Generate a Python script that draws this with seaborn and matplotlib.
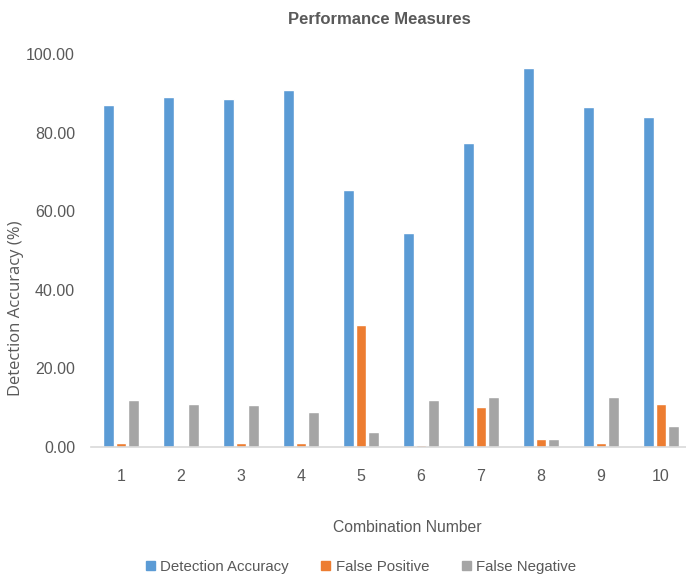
import matplotlib
matplotlib.use("Agg")
import matplotlib.pyplot as plt
import seaborn as sns
import pandas as pd
from matplotlib.ticker import FormatStrFormatter

combinations = [str(i) for i in range(1, 11)]
detection_accuracy = [87.1, 89.0, 88.5, 90.8, 65.3, 54.5, 77.4, 96.4, 86.5, 84.0]
false_positive = [0.9, 0.0, 0.9, 0.9, 31.0, 0.5, 10.2, 2.0, 0.9, 10.9]
false_negative = [11.9, 10.9, 10.6, 8.8, 3.8, 12.0, 12.6, 2.0, 12.8, 5.3]
series_names = ["Detection Accuracy", "False Positive", "False Negative"]
colors = ["#5B9BD5", "#ED7D31", "#A5A5A5"]

df = pd.DataFrame({
    "Combination": combinations * 3,
    "Measure": sum([[n] * len(combinations) for n in series_names], []),
    "Value": detection_accuracy + false_positive + false_negative,
})

sns.set_theme(style="white")
plt.rcParams["font.family"] = ["Liberation Sans", "DejaVu Sans"]

text_col = "#595959"
fig = plt.figure(figsize=(6.86, 5.77), dpi=100)
ax = fig.add_axes([91 / 686, 130 / 577, 600 / 686, 393 / 577])

sns.barplot(data=df, x="Combination", y="Value", hue="Measure",
            hue_order=series_names, palette=colors, width=0.62, gap=0.14,
            saturation=1, ax=ax, legend=False)

ax.set_xlim(-0.5, 9.5)
ax.set_ylim(0, 100)
ax.set_yticks(range(0, 101, 20))
ax.yaxis.set_major_formatter(FormatStrFormatter("%.2f"))
for s in ["top", "right", "left"]:
    ax.spines[s].set_visible(False)
ax.spines["bottom"].set_color("#D9D9D9")
ax.spines["bottom"].set_linewidth(1.2)
ax.tick_params(axis="both", length=0, labelsize=11.5, colors=text_col)
ax.tick_params(axis="x", pad=16)
ax.tick_params(axis="y", pad=11.5)
ax.set_xlabel("")
ax.set_ylabel("")

fig.text(379 / 686, 1 - 19 / 577, "Performance Measures", ha="center", va="center",
         fontsize=12, fontweight="bold", color=text_col)
fig.text(407 / 686, 1 - 527 / 577, "Combination Number", ha="center", va="center",
         fontsize=11.3, color=text_col)
fig.text(16 / 686, 1 - 308 / 577, "Detection Accuracy (%)", ha="center", va="center",
         rotation=90, fontsize=12, color=text_col, family=["Open Sans", "DejaVu Sans"])

handles = [plt.Rectangle((0, 0), 1, 1, color=c) for c in colors]
fig.legend(handles, series_names, loc="center", bbox_to_anchor=(361 / 686, 1 - 567 / 577),
           ncol=3, frameon=False, fontsize=10.8, handlelength=0.6, handleheight=0.6,
           handletextpad=0.35, columnspacing=2.2, labelcolor=text_col)

fig.savefig("out.png", dpi=100)
